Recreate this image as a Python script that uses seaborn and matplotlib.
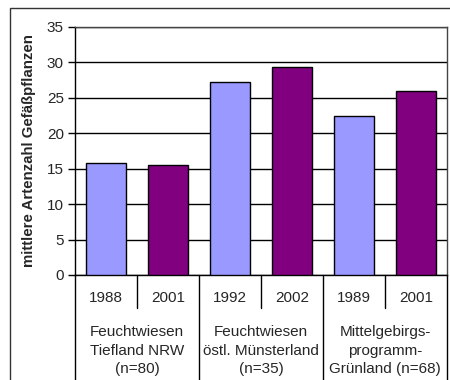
import matplotlib
matplotlib.use("Agg")
import matplotlib.pyplot as plt
import seaborn as sns
import pandas as pd
from matplotlib.lines import Line2D
from matplotlib.patches import Rectangle

# Mean number of vascular plant species per survey
years = ["1988", "2001", "1992", "2002", "1989", "2001"]
values = [15.8, 15.5, 27.3, 29.3, 22.4, 26.0]
survey = ["früh", "spät", "früh", "spät", "früh", "spät"]
groups = ["Feuchtwiesen\nTiefland NRW\n(n=80)",
          "Feuchtwiesen\nöstl. Münsterland\n(n=35)",
          "Mittelgebirgs-\nprogramm-\nGrünland (n=68)"]
y_ticks = [0, 5, 10, 15, 20, 25, 30, 35]
colors = {"früh": "#9999FF", "spät": "#800080"}

df = pd.DataFrame({"pos": range(len(values)), "wert": values, "erhebung": survey})

sns.set_style("white")
plt.rcParams["font.family"] = ["Liberation Sans", "DejaVu Sans"]

W, H = 450, 380
fig = plt.figure(figsize=(W / 100, H / 100), dpi=100)

# outer chart frame
fig.patches.append(Rectangle((10 / W, -0.1), 1.2, 1 - 8 / H + 0.1,
                             transform=fig.transFigure, fill=False,
                             edgecolor="#333333", linewidth=1.0))

ax = fig.add_axes([75 / W, (H - 275) / H, 372 / W, 248 / H])
sns.barplot(data=df, x="pos", y="wert", hue="erhebung", palette=colors,
            dodge=False, width=0.66, edgecolor="black", linewidth=1.0,
            saturation=1, legend=False, ax=ax, zorder=3)

ax.set_ylim(0, 35)
ax.set_xlim(-0.5, 5.5)
ax.set_yticks(y_ticks)
ax.set_yticklabels([str(t) for t in y_ticks], fontsize=11)
ax.tick_params(axis="y", length=5, width=1, color="black", pad=3, left=True)
ax.set_xticks([])
ax.set_xlabel("")
ax.set_ylabel("mittlere Artenzahl Gefäßpflanzen", fontsize=10.8, fontweight="bold",
              labelpad=8)
ax.grid(axis="y", color="black", linewidth=1.0, zorder=0)
ax.set_axisbelow(True)
for side in ["left", "bottom"]:
    ax.spines[side].set_color("black")
    ax.spines[side].set_linewidth(1.0)
for side in ["top", "right"]:
    ax.spines[side].set_color("#444444")
    ax.spines[side].set_linewidth(1.0)

# category table below the axis
trans = ax.get_xaxis_transform()
for i, yr in enumerate(years):
    ax.text(i, -0.093, yr, transform=trans, ha="center", va="center", fontsize=11)
for g, label in enumerate(groups):
    ax.text(2 * g + 0.5, -0.305, label, transform=trans, ha="center", va="center",
            fontsize=11, linespacing=1.4)
for xb in [0.5, 2.5, 4.5]:
    ax.add_line(Line2D([xb, xb], [0, -33 / 248], transform=trans, color="black",
                       linewidth=1.0, clip_on=False))
for xb in [-0.5, 1.5, 3.5, 5.5]:
    ax.add_line(Line2D([xb, xb], [0, -0.5], transform=trans, color="black",
                       linewidth=1.0, clip_on=False))

fig.savefig("out.png", dpi=100)
